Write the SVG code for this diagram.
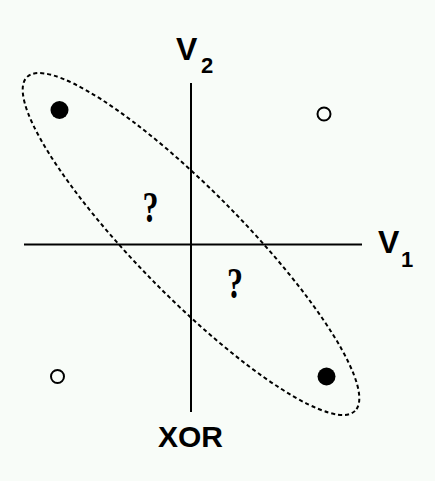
<svg xmlns="http://www.w3.org/2000/svg" width="435" height="481" viewBox="0 0 435 481">
<style>
.ax{stroke:#000;stroke-width:2;fill:none}
.lbl{font-family:"Liberation Sans",Arial,sans-serif;font-weight:bold;fill:#000}
.q{font-family:"Liberation Serif","Times New Roman",serif;font-weight:bold;fill:#000}
.full{fill:#000}
.hollow{fill:none;stroke:#000;stroke-width:2}
</style>
<rect width="435" height="481" fill="#f8fcf8"/>
<g id="connectors">
<line class="ax" x1="191" y1="83" x2="191" y2="412"/>
<line class="ax" x1="24" y1="244.5" x2="362" y2="244.5"/>
<ellipse cx="191" cy="244" rx="234" ry="53" transform="rotate(45.5 191 244)" fill="none" stroke="#000" stroke-width="2" stroke-dasharray="4 3"/>
</g>
<g id="v2"><text class="lbl" x="176" y="60" font-size="32">V</text><text class="lbl" x="201" y="73" font-size="22">2</text></g>
<g id="v1"><text class="lbl" x="378" y="253" font-size="32">V</text><text class="lbl" x="401" y="267" font-size="22">1</text></g>
<g id="xor"><text class="lbl" x="190.5" y="447" font-size="30" text-anchor="middle" textLength="65" lengthAdjust="spacingAndGlyphs">XOR</text></g>
<g id="q1"><text class="q" x="150.5" y="222" font-size="44" text-anchor="middle" textLength="16" lengthAdjust="spacingAndGlyphs">?</text></g>
<g id="q2"><text class="q" x="235" y="298" font-size="44" text-anchor="middle" textLength="16" lengthAdjust="spacingAndGlyphs">?</text></g>
<g id="p1"><circle class="full" cx="59.5" cy="110" r="9"/></g>
<g id="p2"><circle class="full" cx="326.5" cy="376.5" r="9"/></g>
<g id="p3"><circle class="hollow" cx="324" cy="114" r="6.5"/></g>
<g id="p4"><circle class="hollow" cx="57.5" cy="376.5" r="6.5"/></g>
</svg>
